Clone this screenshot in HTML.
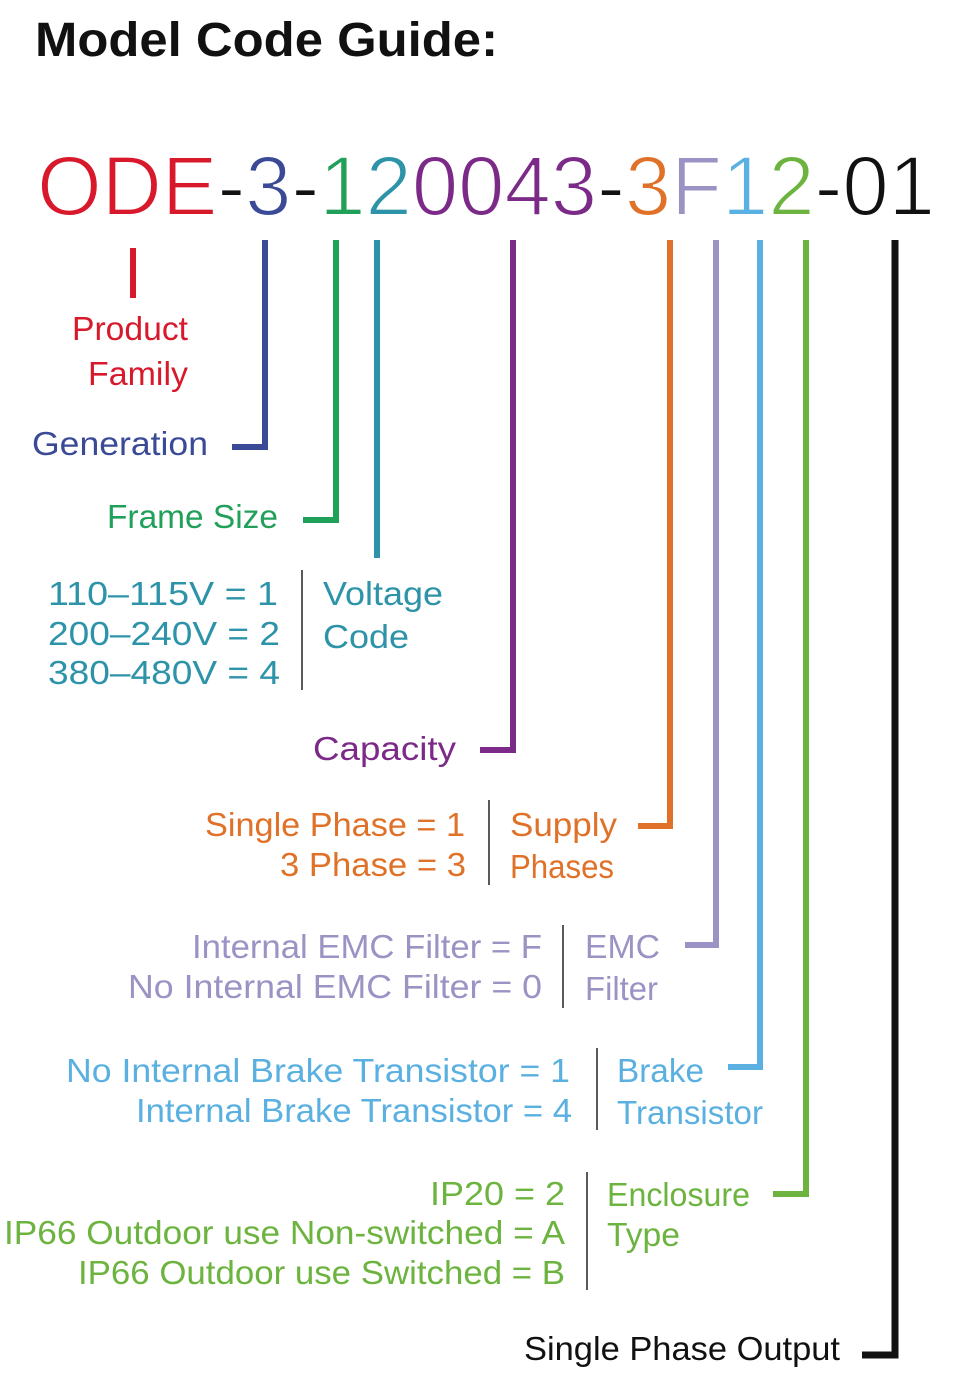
<!DOCTYPE html>
<html><head><meta charset="utf-8"><style>
html,body{margin:0;padding:0;background:#fff;}
svg{display:block;}
text{font-family:"Liberation Sans",sans-serif;}
</style></head><body>
<svg width="960" height="1389" viewBox="0 0 960 1389" xmlns="http://www.w3.org/2000/svg">
<rect width="960" height="1389" fill="#fff"/>
<text x="35" y="56" font-size="48" font-weight="bold" fill="#111" textLength="463" lengthAdjust="spacingAndGlyphs">Model Code Guide:</text>
<text x="37" y="215" font-size="84" stroke="#fff" stroke-width="2" textLength="898" lengthAdjust="spacingAndGlyphs"><tspan fill="#d7192b">ODE</tspan><tspan fill="#111">-</tspan><tspan fill="#3b4a96">3</tspan><tspan fill="#111">-</tspan><tspan fill="#21a05a">1</tspan><tspan fill="#2d93a8">2</tspan><tspan fill="#7b2a87">0043</tspan><tspan fill="#111">-</tspan><tspan fill="#e07128">3</tspan><tspan fill="#9b93c4">F</tspan><tspan fill="#5ab0e0">1</tspan><tspan fill="#6cb43f">2</tspan><tspan fill="#111">-01</tspan></text>
<g fill="none" stroke-width="6">
<path d="M133 248V298" stroke="#d7192b"/>
<path d="M265 240V447H232" stroke="#3b4a96"/>
<path d="M336 240V520H303" stroke="#21a05a"/>
<path d="M377 240V558" stroke="#2d93a8"/>
<path d="M513 240V750H480" stroke="#7b2a87"/>
<path d="M670 240V826H638" stroke="#e07128"/>
<path d="M716 240V945H685" stroke="#9b93c4"/>
<path d="M760 240V1067H728" stroke="#5ab0e0"/>
<path d="M806 240V1194H773" stroke="#6cb43f"/>
<path d="M895 240V1355H862" stroke="#111" stroke-width="7"/>
</g>
<g stroke="#222" stroke-width="1.5">
<path d="M302 570V690"/><path d="M489 800V885"/><path d="M563 925V1008"/><path d="M597 1048V1130"/><path d="M587 1172V1290"/>
</g>
<g font-size="33">
<text x="72" y="340" fill="#d7192b" textLength="116" lengthAdjust="spacingAndGlyphs">Product</text>
<text x="88" y="385" fill="#d7192b" textLength="100" lengthAdjust="spacingAndGlyphs">Family</text>
<text x="32" y="455" fill="#3b4a96" textLength="176" lengthAdjust="spacingAndGlyphs">Generation</text>
<text x="107" y="528" fill="#21a05a" textLength="171" lengthAdjust="spacingAndGlyphs">Frame Size</text>
<g fill="#2d93a8">
<text x="48" y="605" textLength="230" lengthAdjust="spacingAndGlyphs">110–115V = 1</text>
<text x="48" y="645" textLength="232" lengthAdjust="spacingAndGlyphs">200–240V = 2</text>
<text x="48" y="684" textLength="232" lengthAdjust="spacingAndGlyphs">380–480V = 4</text>
<text x="323" y="605" textLength="120" lengthAdjust="spacingAndGlyphs">Voltage</text>
<text x="323" y="648" textLength="86" lengthAdjust="spacingAndGlyphs">Code</text>
</g>
<text x="313" y="760" fill="#7b2a87" textLength="143" lengthAdjust="spacingAndGlyphs">Capacity</text>
<g fill="#e07128">
<text x="205" y="836" textLength="260" lengthAdjust="spacingAndGlyphs">Single Phase = 1</text>
<text x="280" y="876" textLength="186" lengthAdjust="spacingAndGlyphs">3 Phase = 3</text>
<text x="510" y="836" textLength="107" lengthAdjust="spacingAndGlyphs">Supply</text>
<text x="510" y="878" textLength="104" lengthAdjust="spacingAndGlyphs">Phases</text>
</g>
<g fill="#9b93c4">
<text x="192" y="958" textLength="350" lengthAdjust="spacingAndGlyphs">Internal EMC Filter = F</text>
<text x="128" y="998" textLength="414" lengthAdjust="spacingAndGlyphs">No Internal EMC Filter = 0</text>
<text x="585" y="958" textLength="75" lengthAdjust="spacingAndGlyphs">EMC</text>
<text x="585" y="1000" textLength="73" lengthAdjust="spacingAndGlyphs">Filter</text>
</g>
<g fill="#5ab0e0">
<text x="66" y="1082" textLength="504" lengthAdjust="spacingAndGlyphs">No Internal Brake Transistor  = 1</text>
<text x="136" y="1122" textLength="436" lengthAdjust="spacingAndGlyphs">Internal Brake Transistor = 4</text>
<text x="617" y="1082" textLength="87" lengthAdjust="spacingAndGlyphs">Brake</text>
<text x="617" y="1124" textLength="146" lengthAdjust="spacingAndGlyphs">Transistor</text>
</g>
<g fill="#6cb43f">
<text x="430" y="1205" textLength="135" lengthAdjust="spacingAndGlyphs">IP20 = 2</text>
<text x="4" y="1244" textLength="561" lengthAdjust="spacingAndGlyphs">IP66 Outdoor use Non-switched = A</text>
<text x="78" y="1284" textLength="487" lengthAdjust="spacingAndGlyphs">IP66 Outdoor use Switched = B</text>
<text x="607" y="1206" textLength="143" lengthAdjust="spacingAndGlyphs">Enclosure</text>
<text x="607" y="1246" textLength="73" lengthAdjust="spacingAndGlyphs">Type</text>
</g>
<text x="524" y="1360" fill="#111" textLength="316" lengthAdjust="spacingAndGlyphs">Single Phase Output</text>
</g>
</svg>
</body></html>
